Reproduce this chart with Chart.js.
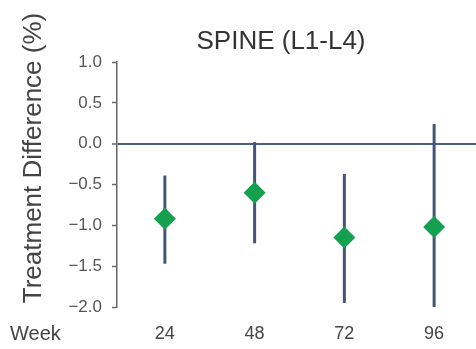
<!DOCTYPE html>
<html>
<head>
<meta charset="utf-8">
<script src="https://cdn.jsdelivr.net/npm/chart.js@4"></script>
<style>
    html, body { margin: 0; padding: 0; background: #fff; }
    #wrap { width: 476px; height: 349px; position: relative; }
</style>
</head>
<body>
<div id="wrap"><canvas id="spineChart"></canvas></div>
<script>
// Values
const weeks = [24, 48, 72, 96];
const treatmentDiff = [-0.92, -0.60, -1.15, -1.02];
const ciLower = [-1.47, -1.22, -1.95, -2.0];
const ciUpper = [-0.39, 0.02, -0.37, 0.24];
const yTicks = [1.0, 0.5, 0.0, -0.5, -1.0, -1.5, -2.0];

const chartTitle = 'SPINE (L1-L4)';
const yTitle = 'Treatment Difference (%)';
const xLabel = 'Week';

const fontFamily = '"Liberation Sans", Arial, sans-serif';

// Error bars: one small line dataset per week
const errorBarSets = weeks.map((w, i) => ({
    type: 'scatter',
    data: [{ x: w, y: ciLower[i] }, { x: w, y: ciUpper[i] }],
    showLine: true,
    borderColor: '#41567a',
    borderWidth: 3,
    pointRadius: 0,
    order: 2
}));

// Texts that sit outside the plot area
const textPlugin = {
    id: 'sideTexts',
    afterDraw(chart) {
        const ctx = chart.ctx;
        ctx.save();
        ctx.fillStyle = '#333';
        ctx.textBaseline = 'middle';

        ctx.font = '26px ' + fontFamily;
        ctx.textAlign = 'center';
        ctx.fillText(chartTitle, 281, 42);

        ctx.font = '20px ' + fontFamily;
        ctx.textAlign = 'left';
        ctx.fillStyle = '#444';
        ctx.fillText(xLabel, 10, 334);

        ctx.translate(34, 158);
        ctx.rotate(-Math.PI / 2);
        ctx.textAlign = 'center';
        ctx.font = '26px ' + fontFamily;
        ctx.fillText(yTitle, 0, 0);
        ctx.restore();
    }
};

const ctx = document.getElementById('spineChart').getContext('2d');
new Chart(ctx, {
    type: 'scatter',
    data: {
        datasets: [
            {
                data: weeks.map((w, i) => ({ x: w, y: treatmentDiff[i] })),
                pointStyle: 'rectRot',
                pointRadius: 11,
                pointHoverRadius: 11,
                pointBackgroundColor: '#14a04e',
                pointBorderColor: '#14a04e',
                pointBorderWidth: 0,
                order: 0
            },
            ...errorBarSets
        ]
    },
    options: {
        responsive: true,
        maintainAspectRatio: false,
        animation: false,
        layout: { autoPadding: false, padding: { top: 62, right: 0, bottom: 0, left: 0 } },
        plugins: {
            legend: { display: false },
            tooltip: { enabled: false }
        },
        scales: {
            x: {
                type: 'linear',
                min: 11.2,
                max: 107.2,
                afterBuildTicks: axis => { axis.ticks = weeks.map(v => ({ value: v })); },
                afterFit: axis => {
                    axis.height = 42;
                    axis.paddingLeft = 0;
                    axis.paddingRight = 0;
                },
                grid: { display: false, drawTicks: false },
                border: { display: false },
                ticks: {
                    padding: 16,
                    color: '#444',
                    font: { family: fontFamily, size: 18 }
                }
            },
            y: {
                min: -2,
                max: 1,
                afterBuildTicks: axis => { axis.ticks = yTicks.map(v => ({ value: v })); },
                afterFit: axis => { axis.width = 117; },
                grid: {
                    drawOnChartArea: true,
                    color: c => (c.tick && c.tick.value === 0 ? '#4a6282' : 'rgba(0,0,0,0)'),
                    lineWidth: c => (c.tick && c.tick.value === 0 ? 2 : 1),
                    tickColor: '#666',
                    tickLength: 5,
                    tickWidth: 1.5
                },
                border: { display: true, color: '#666', width: 1.5 },
                ticks: {
                    padding: 10,
                    color: '#555',
                    font: { family: fontFamily, size: 17 },
                    callback: v => v.toFixed(1).replace('-', '\u2212')
                }
            }
        }
    },
    plugins: [textPlugin]
});
</script>
</body>
</html>
